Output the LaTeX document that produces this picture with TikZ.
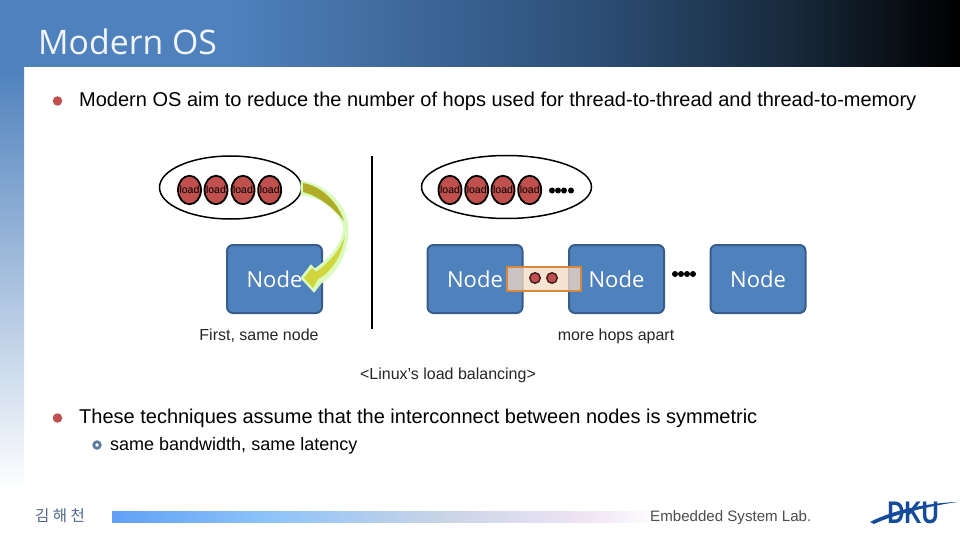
\documentclass[tikz,border=0pt]{standalone}
\usepackage{fontspec}
\setmainfont{Liberation Sans}
\newfontfamily\titlefont{Open Sans}
\newfontfamily\cjkfont{Noto Sans CJK KR}
\usetikzlibrary{positioning,shapes.geometric,calc}
\definecolor{bandblue}{RGB}{79,129,189}
\definecolor{banddark}{RGB}{44,78,118}
\definecolor{bandnavy}{RGB}{24,42,60}
\definecolor{nodeblue}{RGB}{79,129,189}
\definecolor{nodeline}{RGB}{56,93,138}
\definecolor{loadred}{RGB}{192,80,77}
\definecolor{bridgeline}{RGB}{218,135,62}
\definecolor{arrowdark}{RGB}{176,172,40}
\definecolor{arrowlight}{RGB}{208,214,60}
\definecolor{arrowglow}{RGB}{218,250,190}
\definecolor{logoblue}{RGB}{20,75,155}
\definecolor{barone}{RGB}{96,160,245}
\definecolor{bartwo}{RGB}{140,195,250}
\definecolor{barthree}{RGB}{200,212,230}
\definecolor{barfour}{RGB}{238,228,244}
\pgfdeclarehorizontalshading{bandshade}{100bp}{
  color(0bp)=(bandblue); color(37bp)=(bandblue); color(56bp)=(banddark);
  color(66bp)=(bandnavy); color(75bp)=(black); color(100bp)=(black)}
\pgfdeclarehorizontalshading{barshade}{100bp}{
  color(0bp)=(barone); color(25bp)=(barone); color(39bp)=(bartwo);
  color(55bp)=(barthree); color(68bp)=(barfour); color(75bp)=(white); color(100bp)=(white)}
\tikzset{
  nodebox/.style={draw=nodeline, line width=2pt, fill=nodeblue, rounded corners=6pt,
    minimum width=95pt, minimum height=68pt, text=white, font=\fontsize{22}{22}\selectfont\titlefont},
  loadball/.style={ellipse, draw=black, line width=1.8pt, fill=loadred, minimum width=23pt,
    minimum height=28.5pt, inner sep=0pt,
    label={[inner sep=0pt, font=\fontsize{10.5}{10}\selectfont]center:load}},
  threadoval/.style={ellipse, draw=black, line width=1.5pt, minimum width=142pt, minimum height=63pt, inner sep=0pt},
  dotsmall/.style={circle, fill=black, minimum size=6pt, inner sep=0pt},
  hopball/.style={circle, draw=black!60!loadred, line width=1.5pt, fill=loadred, minimum size=10.5pt, inner sep=0pt},
  bulletdot/.style={circle, fill=loadred, minimum size=9.5pt, inner sep=0pt},
  caption/.style={font=\fontsize{16}{18}\selectfont, text=black!85},
  bodytext/.style={font=\fontsize{20}{22}\selectfont, anchor=west, text=black, inner sep=0pt}
}
\begin{document}
\begin{tikzpicture}[x=1pt, y=-1pt]
\useasboundingbox (0,0) rectangle (960,540);
% background
\fill[white] (0,0) rectangle (960,540);
\shade[shading=bandshade] (0,0) rectangle (960,67);
\shade[top color=bandblue, bottom color=white] (0,67) rectangle (24,490);
\node[anchor=west, inner sep=0pt, text=white!92!bandblue, font=\fontsize{33.8}{34}\selectfont\titlefont] (title) at (38,42) {Modern OS};

% bullets
\node[bulletdot] (bulletone) at (57.5,101) {};
\node[bodytext] (lineone) at (79,101.5) {Modern OS aim to reduce the number of hops used for thread-to-thread and thread-to-memory};

% left part
\node[threadoval] (ovalleft) at (230.5,187.5) {};
\foreach \i/\x in {1/189.5,2/216,3/243,4/269.7}
  \node[loadball] (la\i) at (\x,190) {};
\node[nodebox] (nodea) at (274.5,279) {Node};
\node[caption] (capleft) at (259,336) {First, same node};
% the arrow, glow first
\fill[arrowglow, draw=arrowglow, line width=1pt]
  (301,181) .. controls (325,184) and (349,205) .. (348,232)
  .. controls (347,255) and (335,275) .. (321,283) -- (314,292) -- (301,278) -- (311,265) -- (315,269)
  .. controls (330,258) and (342,245) .. (344,228)
  .. controls (340,212) and (322,196) .. (301,195) -- cycle;
\fill[arrowdark]
  (303,183) .. controls (322,186) and (338,203) .. (344,221)
  .. controls (332,206) and (318,196) .. (303,192) -- cycle;
\fill[arrowlight]
  (304,278) -- (312,268) -- (316,272) .. controls (330,262) and (340,250) .. (345,236)
  .. controls (342,255) and (332,272) .. (318,279) -- (313,288) -- cycle;
\draw[black, line width=2.4pt] (372,156) -- (372,329);

% right part
\node[threadoval, minimum width=170pt] (ovalright) at (506.5,187) {};
\foreach \i/\x in {1/450,2/476.7,3/503,4/529.7}
  \node[loadball] (lb\i) at (\x,190) {};
\foreach \x in {552,558,564,571}
  \node[dotsmall] at (\x,190.5) {};
\node[nodebox] (nodeb) at (475,279) {Node};
\node[nodebox] (nodec) at (616.5,279) {Node};
\node[nodebox] (noded) at (758,279) {Node};
\foreach \x in {675,681,687,693}
  \node[dotsmall] at (\x,274) {};
% link between nodes
\node[draw=bridgeline, line width=2pt, fill=bridgeline!30!white, fill opacity=0.75,
  minimum width=74pt, minimum height=24pt, inner sep=0pt] (bridge) at (544,279) {};
\node[hopball] (hopa) at (535,278) {};
\node[hopball] (hopb) at (552,278) {};
\node[caption] (capright) at (616,336) {more hops apart};
\node[caption] (capmain) at (448,375) {<Linux’s load balancing>};

\node[bulletdot] (bullettwo) at (57.5,418) {};
\node[bodytext] (linetwo) at (79,418.5) {These techniques assume that the interconnect between nodes is symmetric};
\node[circle, draw=nodeline!80!white, line width=2.8pt, fill=white, minimum size=6.5pt, inner sep=0pt] (bulletsub) at (97,445) {};
\node[anchor=west, inner sep=0pt, font=\fontsize{18}{20}\selectfont] (linesub) at (110,445.5) {same bandwidth, same latency};

% footer
\node[text=nodeline!70!gray, font=\fontsize{15.5}{16}\selectfont\cjkfont] (author) at (60,516) {김 해 천};
\shade[shading=barshade] (112,511) rectangle (660,522);
\node[anchor=west, inner sep=0pt, text=black!70, font=\fontsize{15.1}{17}\selectfont] (lab) at (650,517.5) {Embedded System Lab.};
\fill[logoblue] (870,522) .. controls (895,509) and (930,503) .. (957,502)
  .. controls (930,506) and (895,514) .. (874,524) -- cycle;
\node[text=logoblue, yscale=1.25, xscale=0.95, font=\fontsize{25}{25}\selectfont\bfseries] (logo) at (913,513) {DKU};
\end{tikzpicture}
\end{document}
